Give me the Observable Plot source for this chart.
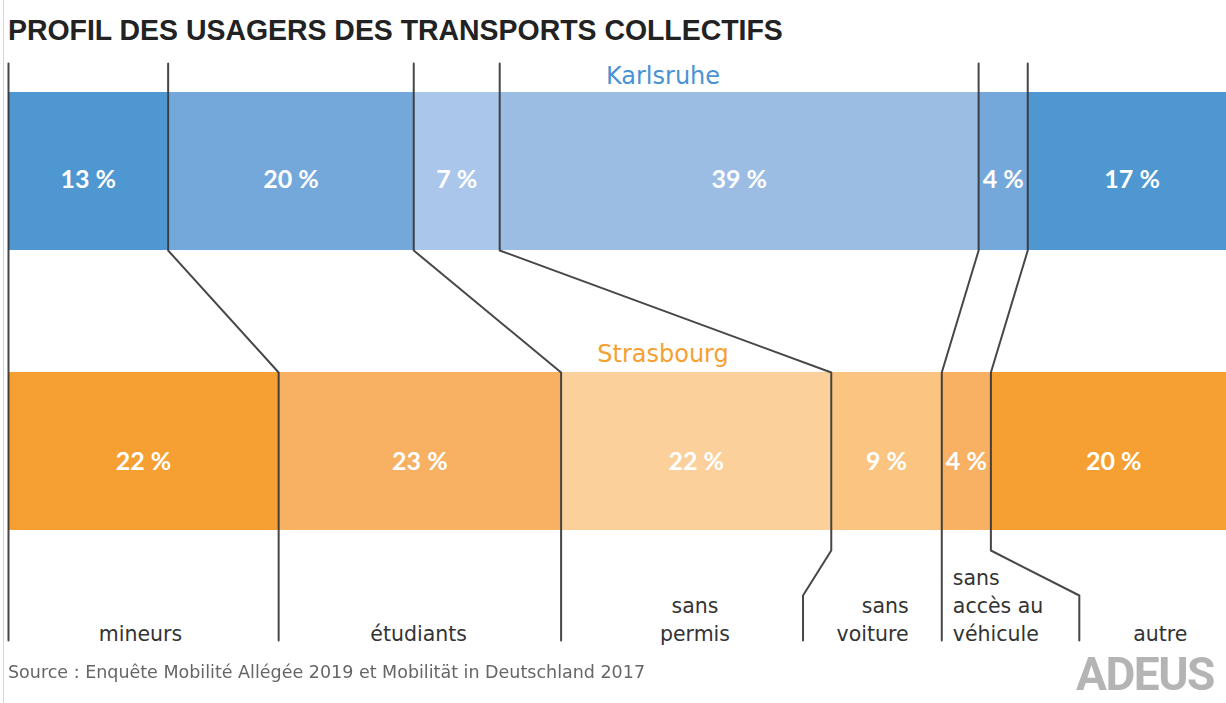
<!DOCTYPE html>
<html>
<head>
<meta charset="utf-8">
<script src="https://cdn.jsdelivr.net/npm/d3@7"></script>
<script src="https://cdn.jsdelivr.net/npm/@observablehq/plot@0.6"></script>
<style>
  html, body { margin: 0; padding: 0; background: #fff; overflow: hidden; }
  #edge { position: fixed; left: 3px; top: 0; width: 1px; height: 703px; background: #d6d6d6; }
  #title { height: 50px; box-sizing: border-box; padding: 13px 0 0 8px; font-family: "Liberation Sans", Arial, sans-serif; font-weight: bold; font-size: 29px; line-height: 34px; color: #222; white-space: nowrap; }
  #title span { display: inline-block; transform: scaleX(0.98); transform-origin: 0 50%; }
  #caption { position: relative; height: 48px; }
  #source { position: absolute; left: 8px; top: 5px; font-family: "DejaVu Sans", sans-serif; font-size: 17.5px; line-height: 24px; color: #666; white-space: nowrap; }
  #logo { position: absolute; left: 1076px; top: -4px; font-family: Roboto, sans-serif; font-weight: bold; font-size: 46px; letter-spacing: -1.5px; line-height: 46px; color: #b4b4b4; white-space: nowrap; }
</style>
</head>
<body>
<div id="edge"></div>
<div id="title"><span>PROFIL DES USAGERS DES TRANSPORTS COLLECTIFS</span></div>
<div id="chart"></div>
<div id="caption"><span id="source">Source : Enquête Mobilité Allégée 2019 et Mobilität in Deutschland 2017</span><span id="logo">ADEUS</span></div>
<script>
// ---- data ----
const cities = ["Karlsruhe", "Strasbourg"];
const categories = ["mineurs", "étudiants", "sans\npermis", "sans\nvoiture", "sans\naccès au\nvéhicule", "autre"];
const karlsruhe = [13, 20, 7, 39, 4, 17];
const strasbourg = [22, 23, 22, 9, 4, 20];
// where the separators end up under the Strasbourg bar (in % of the axis)
const bottomSeparators = [0, 22, 45, 64.7, 76, 87.2];
// category label anchor positions (in % of the axis) and alignment
const categoryLabelX = [10.75, 33.4, 55.9, 73.3, 76.9, 93.8];
const categoryLabelAnchor = ["middle", "middle", "middle", "end", "start", "middle"];

// ---- styles ----
const karlsruheColors = ["#4f97d1", "#75a8da", "#aac7eb", "#9bbde4", "#75a8da", "#4f97d1"];
const strasbourgColors = ["#f6a033", "#f8b062", "#fbd09a", "#fbc481", "#f8b062", "#f6a033"];
const cityColors = ["#4a93d3", "#f5a033"];

// ---- layout (vertical positions, px inside svg) ----
const L = {
  lineTop: 13, kTop: 42, kBottom: 200, sTop: 322, sBottom: 480,
  bend1: 500, bend2: 545, lineBottom: 590,
  kText: 129, sText: 411, kLabel: 26, sLabel: 304
};

// ---- derived tables ----
function segments(values, colors, y1, y2, ty) {
  let acc = 0;
  return values.map((v, i) => {
    const s = { x1: acc, x2: acc + v, y1, y2, ty, color: colors[i], label: `${v} %`, mid: acc + v / 2 };
    acc += v;
    return s;
  });
}
const kSeg = segments(karlsruhe, karlsruheColors, L.kTop, L.kBottom, L.kText);
const sSeg = segments(strasbourg, strasbourgColors, L.sTop, L.sBottom, L.sText);

const kCum = [0, ...d3.cumsum(karlsruhe)].slice(0, -1);
const sCum = [0, ...d3.cumsum(strasbourg)].slice(0, -1);
const sepPoints = [];
kCum.forEach((kx, i) => {
  const sx = sCum[i], bx = bottomSeparators[i];
  const pts = [
    [kx, L.lineTop], [kx, L.kBottom], [sx, L.sTop], [sx, L.bend1], [bx, L.bend2], [bx, L.lineBottom]
  ];
  pts.forEach(([x, y]) => sepPoints.push({ id: i, x, y }));
});

const catLabels = categories.map((c, i) => ({ text: c, x: categoryLabelX[i], anchor: categoryLabelAnchor[i] }));
const cityLabels = cities.map((c, i) => ({ text: c, x: 53.3, y: i === 0 ? L.kLabel : L.sLabel, color: cityColors[i] }));

const chart = Plot.plot({
  width: 1226,
  height: 605,
  margin: 0,
  style: { fontFamily: "'DejaVu Sans', sans-serif", background: "white" },
  x: { domain: [0, 100], range: [8, 1236], axis: null },
  y: { domain: [0, 605], range: [0, 605], axis: null },
  color: { type: "identity" },
  marks: [
    Plot.rect([...kSeg, ...sSeg], { x1: "x1", x2: "x2", y1: "y1", y2: "y2", fill: "color" }),
    Plot.text([...kSeg, ...sSeg], { x: "mid", y: "ty", text: "label", fill: "white", fontSize: 25, fontWeight: "bold", fontFamily: "Lato, sans-serif" }),
    Plot.line(sepPoints, { x: "x", y: "y", z: "id", stroke: "#333", strokeOpacity: 0.9, strokeWidth: 2, curve: "linear" }),
    Plot.text(cityLabels, { x: "x", y: "y", text: "text", fill: "color", fontSize: 24 }),
    ...["middle", "start", "end"].map(a =>
      Plot.text(catLabels.filter(d => d.anchor === a), {
        x: "x", y: L.lineBottom, text: "text", textAnchor: a, lineAnchor: "bottom",
        lineHeight: 1.36, fontSize: 20.5, fill: "#333"
      })
    )
  ]
});
document.getElementById("chart").appendChild(chart);
</script>
</body>
</html>
